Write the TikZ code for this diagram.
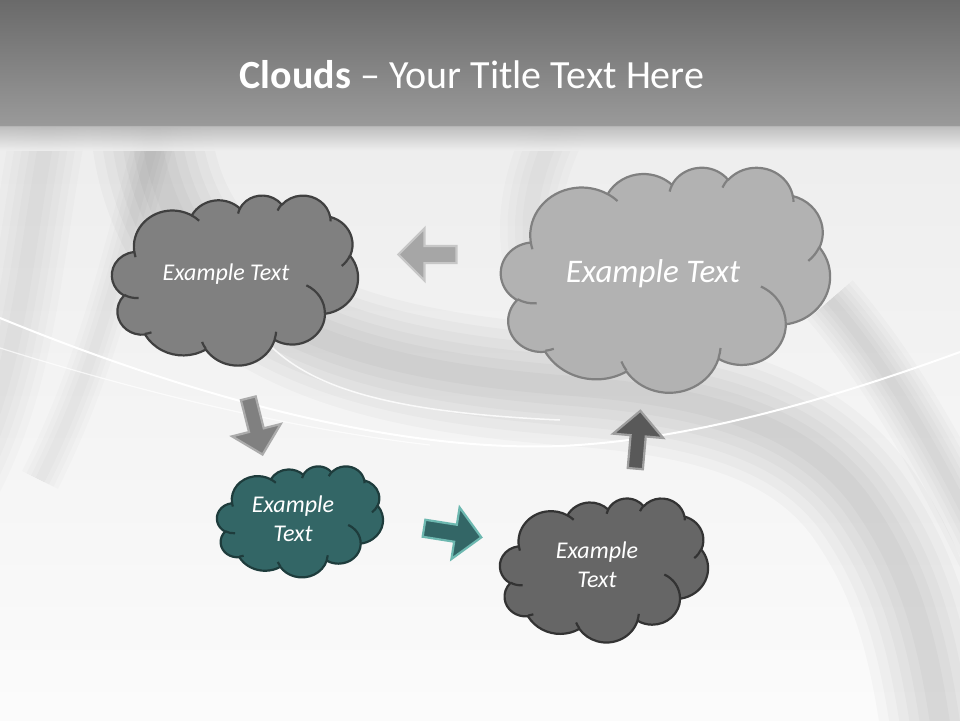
\documentclass[tikz,border=0pt]{standalone}
\usepackage{fontspec}
\setmainfont{Carlito}
\usetikzlibrary{shapes.arrows}

\definecolor{titletop}{HTML}{6A6A6A}
\definecolor{titlebot}{HTML}{9A9A9A}
\definecolor{cloudteal}{HTML}{336666}
\definecolor{tealline}{HTML}{1E3C3C}
\definecolor{tealedge}{HTML}{6DB8B0}

% one puff of the cloud outline: x radius, y radius, start and sweep (angles along the ray)
\newcommand\puff[4]{arc[x radius=#1, y radius=#2,
  start angle={atan2(#1*sin(#3),#2*cos(#3))},
  delta angle={mod(atan2(#1*sin(#3+#4),#2*cos(#3+#4))-atan2(#1*sin(#3),#2*cos(#3))-(#4)+540,360)-180+(#4)}]}

% outline of the cloud in a 432 x 432 box
\newcommand\cloudpath{(39,143.7)
  \puff{67.53}{91.90}{-190.4875}{123.7805}
  \puff{53.33}{72.67}{-144.1024}{89.9452}
  \puff{43.65}{59.45}{-145.8079}{99.7230}
  \puff{48.57}{65.95}{-130.9861}{117.2417}
  \puff{53.33}{72.73}{-78.7089}{109.0269}
  \puff{67.75}{92.20}{-46.2673}{130.2690}
  \puff{57.85}{78.67}{0.6250}{114.0333}
  \puff{67.52}{92.15}{22.4516}{115.1726}
  \puff{77.20}{105.43}{66.2426}{75.7110}
  \puff{43.60}{59.18}{-274.9421}{146.7356}
  \puff{43.45}{59.45}{-246.8285}{152.5189} -- cycle}

% the little folds inside the cloud
\newcommand\cloudfolds{(46.93,261.77) \puff{43.45}{59.45}{86.7420}{26.4295}
  (69.28,348.99) \puff{43.60}{59.18}{73.6105}{11.4475}
  (164.78,390.90) \puff{67.52}{92.15}{137.6241}{14.0811}
  (288.27,347.51) \puff{67.52}{92.15}{6.4533}{15.9984}
  (341.29,229.54) \puff{57.85}{78.67}{-70.2924}{70.9174}
  (417.98,153.54) \puff{53.33}{72.73}{30.3180}{27.7515}
  (383.24,54.26) \puff{48.57}{65.95}{-13.7443}{14.8589}
  (290.78,39.52) \puff{48.57}{65.95}{-149.1815}{18.1954}
  (221.41,47.20) \puff{43.65}{59.45}{-163.4943}{17.6864}
  (140.00,51.92) \puff{67.53}{91.90}{-66.7070}{12.3194}
  (41.27,157.89) \puff{67.53}{91.90}{157.6544}{11.8539}}

\tikzset{
  cloudframe/.style n args={4}{shift={(#1,#2)}, xscale=#3/432, yscale=#4/432},
  cloudline/.style={line width=2.2pt, line join=round},
  cloudtext/.style={text=white, align=center, font=\itshape\fontsize{24}{29}\selectfont},
  blockarrow/.style={single arrow, inner xsep=0pt, inner ysep=7.5pt, minimum height=58,
    single arrow head extend=17.5, single arrow tip angle=90, line width=2.2pt},
  swoosh/.style={black, opacity=.017}
}

\begin{document}
\begin{tikzpicture}[x=1pt, y=1pt, yscale=-1]
\useasboundingbox (0,0) rectangle (960,720);

% background
\shade[top color=gray!14, bottom color=gray!3] (0,126) rectangle (960,720);
\foreach \w in {20,40,...,120}
  \draw[swoosh, opacity=.022, line width=\w] (150,120) .. controls (165,330) and (380,370) .. (560,385)
    .. controls (700,395) and (800,420) .. (860,500) .. controls (910,570) and (930,640) .. (945,760);
\foreach \w in {15,30,...,75}
  \draw[swoosh, line width=\w] (50,120) .. controls (20,280) and (20,400) .. (-60,520);
\foreach \w in {10,20,30,40}
  \draw[swoosh, line width=\w] (160,120) .. controls (120,260) and (100,360) .. (40,480);
\foreach \w in {15,30,...,60}
  \draw[swoosh, line width=\w] (560,120) .. controls (520,200) and (520,260) .. (560,330);
\foreach \w in {10,20,...,60}
  \draw[swoosh, opacity=.02, line width=\w] (830,300) .. controls (900,380) and (950,480) .. (990,560);
\draw[white, line width=2] (0,318) .. controls (200,400) and (400,452) .. (560,446)
  .. controls (700,440) and (850,392) .. (960,352);
\draw[white, line width=1.5, opacity=.8] (258,332) .. controls (300,385) and (380,412) .. (560,420);
\draw[white, line width=1.2, opacity=.7] (0,348) .. controls (150,395) and (300,430) .. (430,445);
\shade[top color=titletop, bottom color=titlebot] (0,0) rectangle (960,126);
\shade[top color=gray!55, bottom color=gray!14, fill opacity=.9] (0,126) rectangle (960,150);

% title
\node[anchor=base, text=white, font=\fontsize{40}{48}\selectfont] (title) at (472,88)
  {\textbf{Clouds} -- Your Title Text Here};

% clouds
\begin{scope}[cloudframe={112}{195}{246}{170}]
  \draw[cloudline, fill=gray, draw=black!75] \cloudpath;
  \draw[cloudline, draw=black!75] \cloudfolds;
\end{scope}
\node[cloudtext] (topleft) at (226,274) {Example Text};

\begin{scope}[cloudframe={501}{167}{329}{225}]
  \draw[cloudline, fill=black!30, draw=black!50] \cloudpath;
  \draw[cloudline, draw=black!50] \cloudfolds;
\end{scope}
\node[cloudtext, font=\itshape\fontsize{33}{39}\selectfont] (topright) at (653,274) {Example Text};

\begin{scope}[cloudframe={217}{466}{166}{111}]
  \draw[cloudline, fill=cloudteal, draw=tealline] \cloudpath;
  \draw[cloudline, draw=tealline] \cloudfolds;
\end{scope}
\node[cloudtext] (midleft) at (293,519) {Example\\Text};

\begin{scope}[cloudframe={500}{498}{208}{144}]
  \draw[cloudline, fill=black!60, draw=black!80] \cloudpath;
  \draw[cloudline, draw=black!80] \cloudfolds;
\end{scope}
\node[cloudtext] (midright) at (597,565) {Example\\Text};

% arrows
\node[blockarrow, fill=black!35, draw=black!22, rotate=180] (toleft) at (431.7,254.5) {};
\node[blockarrow, fill=gray, draw=black!33, rotate=-75.8, inner ysep=6.5pt] (todown) at (254.5,422.7) {};
\node[blockarrow, fill=cloudteal, draw=tealedge, rotate=-9] (toright) at (448.4,532.1) {};
\node[blockarrow, fill=black!65, draw=black!38, rotate=85, inner ysep=6.5pt] (toup) at (637.5,443.5) {};
\end{tikzpicture}
\end{document}
